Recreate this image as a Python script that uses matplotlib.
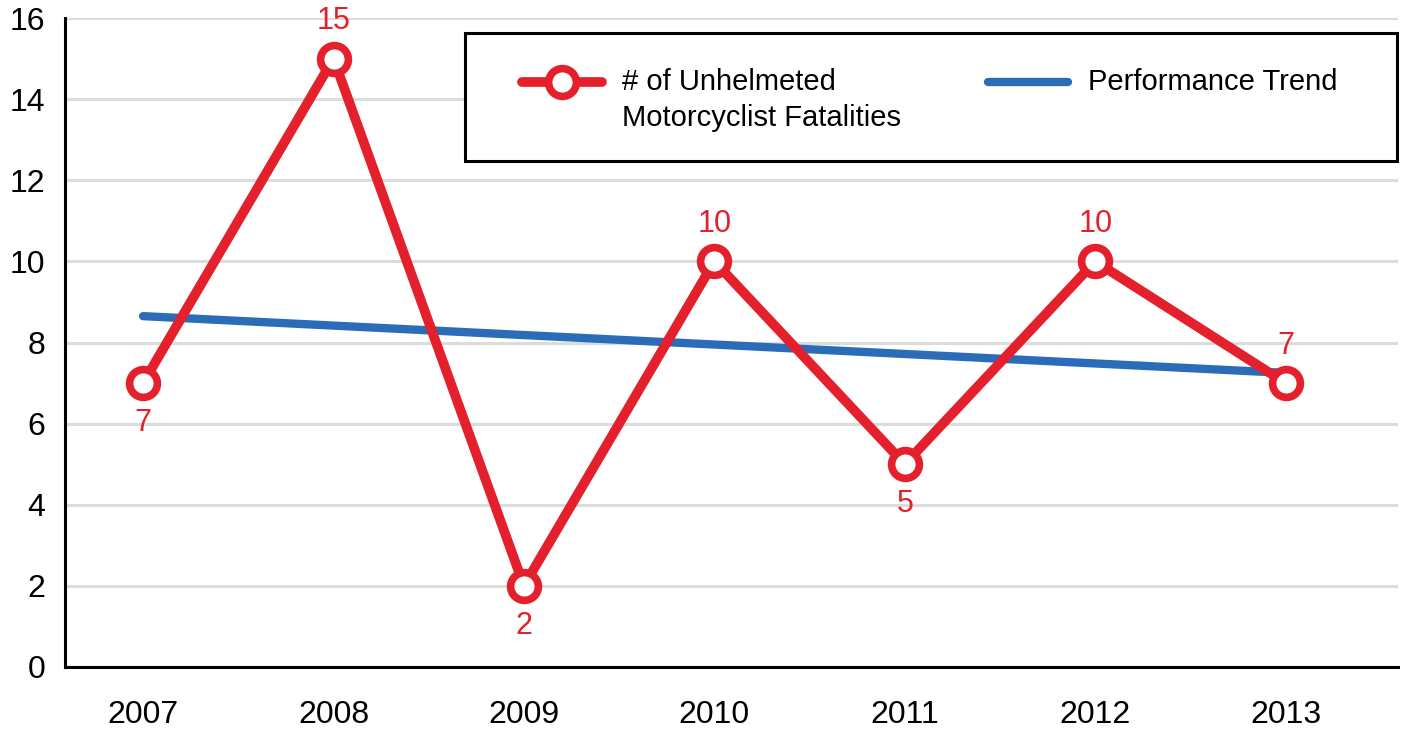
"""Unhelmeted motorcyclist fatalities with performance trend."""

import matplotlib
matplotlib.use("Agg")
import matplotlib.pyplot as plt
from matplotlib.lines import Line2D
from matplotlib.patches import Rectangle

YEARS = ["2007", "2008", "2009", "2010", "2011", "2012", "2013"]
FATALITIES = [7, 15, 2, 10, 5, 10, 7]
TREND_YEARS = ["2007", "2013"]
TREND_VALUES = [8.65, 7.25]
LABEL_ABOVE = [False, True, False, True, False, True, True]

RED = "#e3202b"
BLUE = "#2a6cb8"

plt.rcParams["font.family"] = ["Liberation Sans", "DejaVu Sans"]

fig = plt.figure(figsize=(14.04, 7.31), dpi=100)
ax = fig.add_axes([65 / 1404, 64 / 731, 1333 / 1404, 649 / 731])

xs = list(range(len(YEARS)))
trend_x = [YEARS.index(y) for y in TREND_YEARS]

ax.plot(trend_x, TREND_VALUES, color=BLUE, linewidth=6, solid_capstyle="round", zorder=3)
ax.plot(xs, FATALITIES, color=RED, linewidth=7, marker="o", markersize=20,
        markerfacecolor="white", markeredgecolor=RED, markeredgewidth=5.5,
        solid_joinstyle="miter", zorder=4, clip_on=False)

for x, v, above in zip(xs, FATALITIES, LABEL_ABOVE):
    ax.annotate(str(v), (x, v), xytext=(0, 27 if above else -29), textcoords="offset points",
                ha="center", va="center", color=RED, fontsize=22)

ax.set_xlim(-0.41, 6.59)
ax.set_ylim(0, 16)
ax.set_yticks(range(0, 17, 2))
ax.set_xticks(xs)
ax.set_xticklabels(YEARS)
ax.tick_params(axis="y", length=0, pad=14, labelsize=23)
ax.tick_params(axis="x", length=0, pad=24, labelsize=23)
ax.grid(axis="y", color="#dcdcdc", linewidth=2.2)
ax.set_axisbelow(True)
for side in ("top", "right"):
    ax.spines[side].set_visible(False)
for side in ("left", "bottom"):
    ax.spines[side].set_linewidth(2.2)
    ax.spines[side].set_zorder(5)


def axfrac(px, py):
    return (px - 65) / 1333, (667 - py) / 649


# hand-built legend box to match the original layout
x0, y1 = axfrac(465, 33)
x1, y0 = axfrac(1397, 161)
ax.add_patch(Rectangle((x0, y0), x1 - x0, y1 - y0, transform=ax.transAxes,
                       facecolor="white", edgecolor="black", linewidth=2.2, zorder=6, clip_on=False))

hx0, hy = axfrac(522, 82)
hx1, _ = axfrac(602, 82)
hm, _ = axfrac(562, 82)
ax.add_line(Line2D([hx0, hx1], [hy, hy], transform=ax.transAxes, color=RED, linewidth=7,
                   solid_capstyle="round", zorder=7, clip_on=False))
ax.add_line(Line2D([hm], [hy], transform=ax.transAxes, marker="o", markersize=20,
                   markerfacecolor="white", markeredgecolor=RED, markeredgewidth=5.5,
                   zorder=8, clip_on=False))
tx, ty1 = axfrac(622, 82)
_, ty2 = axfrac(622, 118)
ax.text(tx, ty1, "# of Unhelmeted", transform=ax.transAxes, fontsize=21, va="center", zorder=8)
ax.text(tx, ty2, "Motorcyclist Fatalities", transform=ax.transAxes, fontsize=21, va="center", zorder=8)

bx0, _ = axfrac(988, 82)
bx1, _ = axfrac(1068, 82)
ax.add_line(Line2D([bx0, bx1], [hy, hy], transform=ax.transAxes, color=BLUE, linewidth=6,
                   solid_capstyle="round", zorder=7, clip_on=False))
btx, _ = axfrac(1088, 82)
ax.text(btx, ty1, "Performance Trend", transform=ax.transAxes, fontsize=21, va="center", zorder=8)

fig.savefig("out.png", dpi=100)
